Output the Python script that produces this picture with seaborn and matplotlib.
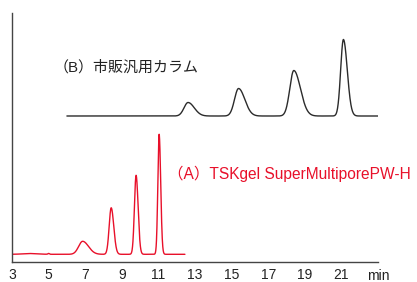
import matplotlib
matplotlib.use("Agg")
import matplotlib.pyplot as plt
import numpy as np
import pandas as pd
import seaborn as sns

# --------------------------------------------------------------------------- #
# Data (retention time in min, height in px units)
# --------------------------------------------------------------------------- #
# (A) TSKgel SuperMultiporePW-H  (red trace)
a_start, a_end = 3.0, 12.45
a_baseline = 7.7
a_centers = [3.9, 5.0, 6.86, 8.42, 9.78, 11.04]
a_heights = [0.8, 0.8, 13.0, 46.5, 79.0, 120.0]
a_sig_left = [0.35, 0.04, 0.22, 0.11, 0.09, 0.07]
a_sig_right = [0.45, 0.04, 0.32, 0.14, 0.11, 0.085]

# (B) 市販汎用カラム  (black trace, offset upward)
b_start, b_end = 6.0, 23.0
b_baseline = 146.0
b_centers = [12.62, 15.38, 18.40, 21.11]
b_heights = [13.5, 27.5, 45.5, 76.5]
b_sig_left = [0.22, 0.22, 0.22, 0.15]
b_sig_right = [0.34, 0.34, 0.36, 0.21]

x_ticks = [3, 5, 7, 9, 11, 13, 15, 17, 19, 21]
label_a = "（A）TSKgel SuperMultiporePW-H"
label_b = "（B）市販汎用カラム"

RED = "#e8102a"
DARK = "#2b2b2b"


def trace(t0, t1, base, centers, heights, sl, sr):
    t = np.linspace(t0, t1, 2000)
    y = np.full_like(t, base)
    for c, h, s1, s2 in zip(centers, heights, sl, sr):
        s = np.where(t < c, s1, s2)
        y += h * np.exp(-0.5 * ((t - c) / s) ** 2)
    return pd.DataFrame({"time": t, "signal": y})


df_a = trace(a_start, a_end, a_baseline, a_centers, a_heights, a_sig_left, a_sig_right)
df_b = trace(b_start, b_end, b_baseline, b_centers, b_heights, b_sig_left, b_sig_right)

sns.set_style("white")
plt.rcParams["font.family"] = ["Liberation Sans", "Noto Sans CJK JP"]

fig = plt.figure(figsize=(4.17, 2.82), dpi=100)
ax = fig.add_axes([12 / 417, 20 / 282, 366 / 417, 249 / 282])

sns.lineplot(data=df_b, x="time", y="signal", color=DARK, lw=1.0, ax=ax)
sns.lineplot(data=df_a, x="time", y="signal", color=RED, lw=1.0, ax=ax)

ax.set_xlim(3, 23)
ax.set_ylim(0, 249)
ax.set_xticks(x_ticks)
ax.set_xticklabels([str(v) for v in x_ticks])
ax.set_yticks([])
ax.set_xlabel("")
ax.set_ylabel("")
ax.tick_params(axis="x", direction="in", length=4, width=0.8, color="#555555",
               labelsize=10, pad=4, labelcolor="#222222")
for side in ["top", "right"]:
    ax.spines[side].set_visible(False)
for side in ["left", "bottom"]:
    ax.spines[side].set_color("#444444")
    ax.spines[side].set_linewidth(1.0)

ax.text(23.0, -14.5, "min", fontsize=10, color="#222222", ha="center", va="center",
        clip_on=False)
ax.text(5.25, 195, label_b, fontsize=10.8, color="#222222", ha="left", va="center")
ax.text(11.5, 88, label_a, fontsize=11.2, color=RED, ha="left", va="center",
        clip_on=False)

fig.savefig("out.png", dpi=100)
plt.close(fig)
